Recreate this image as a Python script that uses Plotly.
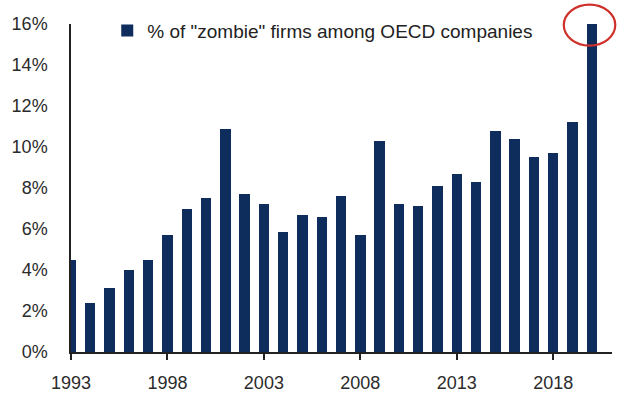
import plotly.graph_objects as go

years = list(range(1993, 2021))
zombie_pct = [4.5, 2.4, 3.1, 4.0, 4.5, 5.7, 7.0, 7.5, 10.9, 7.7,
              7.2, 5.85, 6.7, 6.6, 7.6, 5.7, 10.3, 7.2, 7.1, 8.1,
              8.7, 8.3, 10.8, 10.4, 9.5, 9.7, 11.2, 16.0]
x_ticks = [1993, 1998, 2003, 2008, 2013, 2018]
y_ticks = [0, 2, 4, 6, 8, 10, 12, 14, 16]
y_tick_labels = [f"{v}%" for v in y_ticks]
series_name = '% of "zombie" firms among OECD companies'

bar_color = "#0f2d5c"
axis_color = "#222222"
text_color = "#2b2b2b"
font_family = "Liberation Sans, Arial, sans-serif"

x_range = [1993, 2021.05]
y_range = [0, 16]

fig = go.Figure()
fig.add_trace(go.Bar(
    x=years, y=zombie_pct, name=series_name,
    marker=dict(color=bar_color, line=dict(width=0)),
    width=0.54, showlegend=True,
))

# red ellipse highlighting the last value (paper refs -> not clipped)
def xd(v):
    return (v - x_range[0]) / (x_range[1] - x_range[0])

def yd(v):
    return (v - y_range[0]) / (y_range[1] - y_range[0])

cx, cy = years[-1], zombie_pct[-1]
fig.add_shape(type="circle", xref="paper", yref="paper",
              x0=xd(cx - 1.45), x1=xd(cx + 1.22),
              y0=yd(cy - 1.05), y1=yd(cy + 0.95),
              line=dict(color="#d0302a", width=2.2), fillcolor="rgba(0,0,0,0)")

fig.update_layout(
    width=624, height=394,
    margin=dict(l=71, r=12, t=24, b=42),
    paper_bgcolor="white", plot_bgcolor="white",
    font=dict(family=font_family, color=text_color, size=18),
    bargap=0,
    showlegend=True,
    legend=dict(x=0.067, y=0.98, xanchor="left", yanchor="middle",
                bgcolor="rgba(0,0,0,0)", font=dict(size=19, color="#222222"),
                itemwidth=30),
    xaxis=dict(range=x_range, tickmode="array", tickvals=x_ticks,
               ticktext=[str(t) for t in x_ticks], automargin=False,
               showgrid=False, zeroline=False, showline=True,
               linecolor=axis_color, linewidth=1.5,
               ticks="outside", ticklen=6, tickwidth=1.5, tickcolor=axis_color,
               ticklabelstandoff=8, tickfont=dict(size=18)),
    yaxis=dict(range=y_range, tickmode="array", tickvals=y_ticks,
               ticktext=y_tick_labels, automargin=False,
               showgrid=False, zeroline=False, showline=True,
               linecolor=axis_color, linewidth=1.5, ticks="",
               ticklabelstandoff=18, tickfont=dict(size=18)),
)

fig.write_html("out.html", config={"displayModeBar": False},
               post_script="document.body.style.margin='0';document.body.style.padding='0';")
